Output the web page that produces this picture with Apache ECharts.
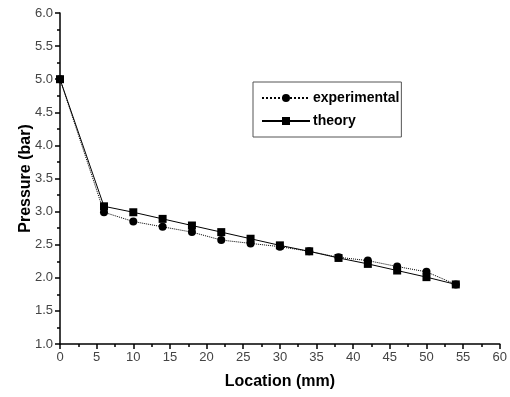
<!DOCTYPE html>
<html>
<head>
<meta charset="utf-8">
<script src="https://cdn.jsdelivr.net/npm/echarts@6/dist/echarts.min.js"></script>
<style>
  html, body { margin: 0; padding: 0; background: #fff; }
  #chart { width: 510px; height: 397px; }
</style>
</head>
<body>
<div id="chart"></div>
<script>
// Measurement positions along the channel (mm)
const locations = [0, 6, 10, 14, 18, 22, 26, 30, 34, 38, 42, 46, 50, 54];
// Measured pressure (bar)
const experimental = [5.0, 2.99, 2.85, 2.77, 2.69, 2.57, 2.52, 2.47, 2.40, 2.31, 2.26, 2.17, 2.09, 1.90];
// Predicted pressure (bar)
const theory = [5.0, 3.08, 2.99, 2.89, 2.79, 2.69, 2.59, 2.49, 2.40, 2.30, 2.21, 2.11, 2.01, 1.90];

const toPairs = (xs, ys) => xs.map((x, i) => [x, ys[i]]);

const chart = echarts.init(document.getElementById('chart'), null, { renderer: 'canvas' });

const tickFont = { fontFamily: 'Liberation Sans', fontSize: 13, color: '#444' };
const nameFont = { fontFamily: 'Liberation Sans', fontSize: 16, fontWeight: 'bold', color: '#000' };

chart.setOption({
  animation: false,
  backgroundColor: '#fff',
  grid: { left: 60, right: 7, top: 13, bottom: 53 },
  legend: {
    left: 253, top: 82,
    orient: 'vertical',
    padding: [9, 2, 9, 8],
    itemGap: 9,
    itemWidth: 48, itemHeight: 10,
    borderColor: '#555', borderWidth: 1,
    textStyle: { fontFamily: 'Liberation Sans', fontSize: 14, fontWeight: 'bold', color: '#000', padding: [0, 0, 0, -2] },
    data: ['experimental', 'theory']
  },
  xAxis: {
    type: 'value', min: 0, max: 60, interval: 5,
    name: 'Location (mm)', nameLocation: 'middle', nameGap: 30,
    nameMoveOverlap: false,
    nameTextStyle: nameFont,
    axisLine: { show: true, lineStyle: { color: '#000', width: 1.5 } },
    axisTick: { show: true, inside: false, length: 5, lineStyle: { color: '#000', width: 1.5 } },
    minorTick: { show: true, splitNumber: 2, length: 3, lineStyle: { color: '#000', width: 1.5 } },
    axisLabel: Object.assign({ margin: 7 }, tickFont),
    splitLine: { show: false }
  },
  yAxis: {
    type: 'value', min: 1, max: 6, interval: 0.5,
    name: 'Pressure (bar)', nameLocation: 'middle', nameGap: 26, nameRotate: 90,
    nameMoveOverlap: false,
    nameTextStyle: nameFont,
    axisLine: { show: true, lineStyle: { color: '#000', width: 1.5 } },
    axisTick: { show: true, inside: false, length: 5, lineStyle: { color: '#000', width: 1.5 } },
    minorTick: { show: true, splitNumber: 2, length: 3, lineStyle: { color: '#000', width: 1.5 } },
    axisLabel: Object.assign({ margin: 7, formatter: v => v.toFixed(1) }, tickFont),
    splitLine: { show: false }
  },
  series: [
    {
      name: 'experimental', type: 'line',
      data: toPairs(locations, experimental),
      symbol: 'circle', symbolSize: 8,
      itemStyle: { color: '#000' },
      lineStyle: { color: '#000', width: 1, type: 'dotted' }
    },
    {
      name: 'theory', type: 'line',
      data: toPairs(locations, theory),
      symbol: 'rect', symbolSize: 8,
      itemStyle: { color: '#000' },
      lineStyle: { color: '#000', width: 1, type: 'solid' }
    }
  ]
});
</script>
</body>
</html>
